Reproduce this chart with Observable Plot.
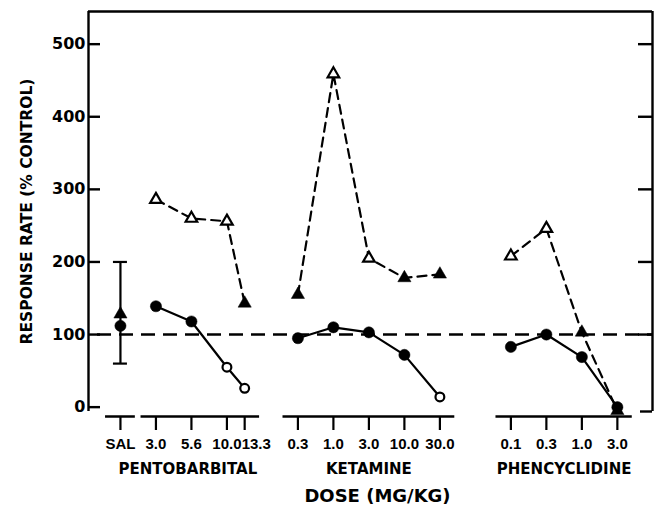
<!DOCTYPE html>
<html>
<head>
<meta charset="utf-8">
<script src="https://cdn.jsdelivr.net/npm/d3@7"></script>
<script src="https://cdn.jsdelivr.net/npm/@observablehq/plot@0.6"></script>
<style>
  html, body { margin: 0; padding: 0; background: #fff; }
  #chart svg { display: block; }
</style>
</head>
<body>
<div id="chart"></div>
<script>
// ---- data ----
const doseDrug  = ["Saline","Pentobarbital","Pentobarbital","Pentobarbital","Pentobarbital",
                   "Ketamine","Ketamine","Ketamine","Ketamine","Ketamine",
                   "Phencyclidine","Phencyclidine","Phencyclidine","Phencyclidine"];
const doseLabel = ["SAL","3.0","5.6","10.0","13.3","0.3","1.0","3.0","10.0","30.0","0.1","0.3","1.0","3.0"];
// abscissa of each dose on the (broken) dose axis
const doseSlot  = [0,1,2,3,3.5,5,6,7,8,9,11,12,13,14];
// dashed series, triangles (open = open triangle)
const triValue  = [128,286,260,256,143,155,459,205,178,183,208,246,103,-5];
const triOpen   = [false,true,true,true,false,false,true,true,false,false,true,true,false,false];
// solid series, circles (open = open circle)
const dotValue  = [112,139,118,55,26,95,110,103,72,14,83,100,69,0];
const dotOpen   = [false,false,false,true,true,false,false,false,false,true,false,false,false,false];
const salineRange = [60, 200];
const controlLevel = 100;
const yTicks = [0,100,200,300,400,500];
const groupNames = ["PENTOBARBITAL","KETAMINE","PHENCYCLIDINE"];
const groupMembers = [["Saline","Pentobarbital"],["Ketamine"],["Phencyclidine"]];
const yTitle = "RESPONSE RATE (% CONTROL)";
const xTitle = "DOSE (MG/KG)";

// ---- tables ----
const rows = doseLabel.map((label, i) => ({
  drug: doseDrug[i], label, slot: doseSlot[i],
  tri: triValue[i], triOpen: triOpen[i],
  dot: dotValue[i], dotOpen: dotOpen[i]
}));
const drugs = Array.from(new Set(doseDrug));
const pad = 0.42;
const segments = drugs.map(dr => {
  const s = rows.filter(r => r.drug === dr).map(r => r.slot);
  return {drug: dr, from: d3.min(s) - pad, to: d3.max(s) + pad};
});
const groups = groupNames.map((name, i) => ({
  name, x: d3.mean(rows.filter(r => groupMembers[i].includes(r.drug)), r => r.slot)
}));
const lineRows = rows.filter(r => r.drug !== "Saline");
const salRow = rows.filter(r => r.drug === "Saline");

const xLo = -0.9, xHi = 14.99;
const yLo = -6, yHi = 545;
const FONT = "DejaVu Sans, sans-serif";
const NARROW = "Liberation Sans, Arial, sans-serif";

const plot = Plot.plot({
  width: 656,
  height: 506,
  marginLeft: 88,
  marginRight: 4,
  marginTop: 11,
  marginBottom: 95,
  x: {domain: [xLo, xHi], axis: null},
  y: {domain: [yLo, yHi], axis: null},
  style: {fontFamily: FONT, background: "white", color: "black"},
  marks: [
    // frame (open at bottom)
    Plot.ruleX([xLo, xHi], {strokeWidth: 2.4}),
    Plot.ruleY([yHi], {strokeWidth: 2.4}),
    // left ticks (inside), right ticks (inside)
    Plot.tickY(yTicks, {y: d => d, insetRight: 564 - 12, strokeWidth: 2.4}),
    Plot.tickY(yTicks.filter(d => d > 0), {y: d => d, insetLeft: 564 - 14, strokeWidth: 2.4}),
    Plot.tickY([yLo], {y: d => d, insetLeft: 564 - 12, strokeWidth: 2.4}),
    // y tick labels
    Plot.text(yTicks, {y: d => d, text: d => String(d), frameAnchor: "left", dx: -3,
      textAnchor: "end", fontSize: 16, fontWeight: "bold"}),
    // y title
    Plot.text([yTitle], {text: d => d, frameAnchor: "left", rotate: -90, dx: -61,
      textAnchor: "middle", lineAnchor: "middle", fontSize: 15.5, fontWeight: "bold"}),
    // broken dose axis
    Plot.ruleY(segments, {x1: "from", x2: "to", y: yLo, dy: 5, strokeWidth: 2.5}),
    Plot.tickX(rows, {x: "slot", insetTop: 405, insetBottom: -19, strokeWidth: 2.2}),
    Plot.text(rows.filter(r => r.label !== "13.3"), {x: "slot", text: "label", frameAnchor: "bottom",
      lineAnchor: "middle", dy: 33, fontSize: 15, fontWeight: "bold", fontFamily: NARROW}),
    Plot.text(rows.filter(r => r.label === "13.3"), {x: "slot", text: "label", frameAnchor: "bottom",
      lineAnchor: "middle", dy: 33, dx: -3, textAnchor: "start", fontSize: 15, fontWeight: "bold",
      fontFamily: NARROW}),
    Plot.text(groups, {x: "x", text: "name", frameAnchor: "bottom", lineAnchor: "middle", dy: 58,
      fontSize: 15, fontWeight: "bold"}),
    Plot.text([xTitle], {text: d => d, frameAnchor: "bottom", lineAnchor: "middle", dy: 85, dx: 7,
      fontSize: 18, fontWeight: "bold"}),
    // control reference line
    Plot.ruleY([controlLevel], {insetLeft: 9, strokeDasharray: "14,8", strokeWidth: 2.6}),
    // saline range bar
    Plot.ruleX(salRow, {x: "slot", y1: salineRange[0], y2: salineRange[1], strokeWidth: 2.2}),
    Plot.ruleY(salineRange, {y: d => d, x1: () => salRow[0].slot, x2: () => salRow[0].slot,
      insetLeft: -7, insetRight: -7, strokeWidth: 2.2}),
    // dashed triangle series
    Plot.line(lineRows, {x: "slot", y: "tri", z: "drug", strokeDasharray: "9,6", strokeWidth: 2.2}),
    // solid circle series
    Plot.line(lineRows, {x: "slot", y: "dot", z: "drug", strokeWidth: 2.2}),
    Plot.dot(rows.filter(r => r.triOpen), {x: "slot", y: "tri", symbol: "triangle", r: 4.3,
      fill: "white", stroke: "black", strokeWidth: 2.2}),
    Plot.dot(rows.filter(r => !r.triOpen), {x: "slot", y: "tri", symbol: "triangle", r: 4.9,
      fill: "black", stroke: "black", strokeWidth: 0.5}),
    Plot.dot(rows.filter(r => r.dotOpen), {x: "slot", y: "dot", r: 4.4,
      fill: "white", stroke: "black", strokeWidth: 2.2}),
    Plot.dot(rows.filter(r => !r.dotOpen), {x: "slot", y: "dot", r: 5.6,
      fill: "black", stroke: "black", strokeWidth: 0.5})
  ]
});
document.getElementById("chart").appendChild(plot);
</script>
</body>
</html>
